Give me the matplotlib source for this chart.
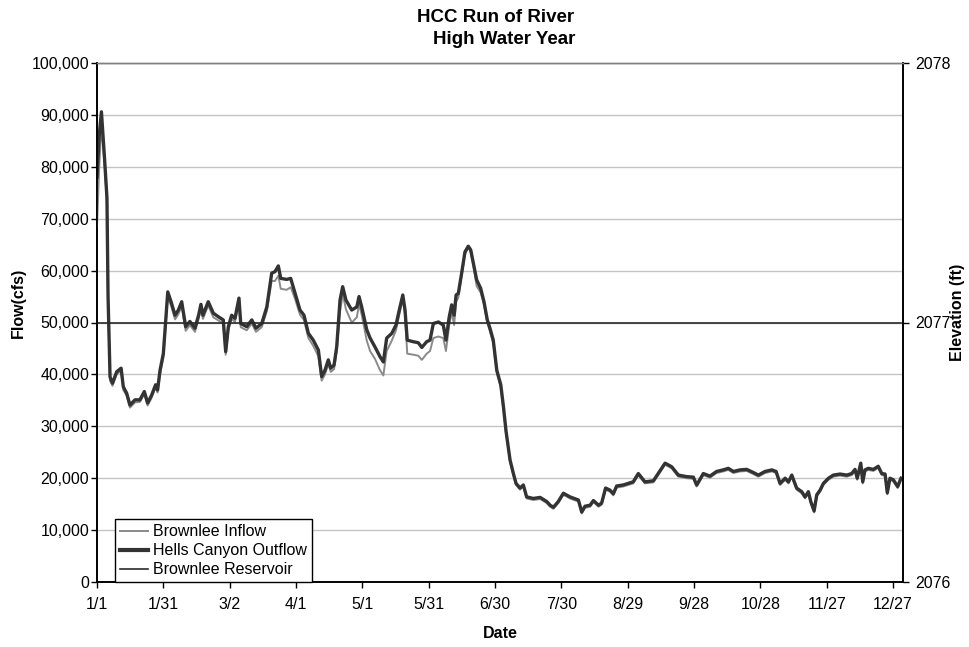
import matplotlib
matplotlib.use("Agg")
import matplotlib.pyplot as plt
from matplotlib.lines import Line2D

plt.rcParams['font.family'] = ['Liberation Sans', 'DejaVu Sans']

# day of year (0 = 1/1)
days = [0, 1, 2, 3.5, 4.5, 5, 5.9, 7, 8.9, 10.9, 11.9, 13.4, 14.9, 17.2, 19.4, 21.4, 22.9, 24.7,
        26.5, 27.4, 28.5, 30, 32, 33.5, 35.3, 36.8, 38.3, 40.1, 42, 44.3, 46, 47, 47.9, 50.3,
        52.6, 54.9, 57.1, 58.2, 59.4, 60.9, 62.4, 64.2, 65, 67.7, 70, 71.9, 74.5, 76.8, 79,
        80.5, 82, 83.1, 85.8, 87.6, 89.6, 91.8, 93.6, 95.6, 97.8, 100.1, 101.6, 103.1, 104.6,
        105.7, 107.2, 108.4, 109.9, 111.1, 112.6, 115.2, 117.5, 118.5, 119.7, 122, 123.5,
        125.7, 128, 129.5, 131, 133.3, 135.2, 136.7, 138.3, 139.3, 140.3, 143, 145.3, 146.9,
        149.1, 150.6, 152.1, 154.4, 156.6, 157.8, 159.3, 160.4, 161.5, 162.4, 163.4, 164.9,
        166.4, 167.9, 169, 170.2, 171.7, 173.5, 175, 176.5, 177.7, 179.2, 180.8, 182.6, 183.8,
        185, 186.8, 188.3, 189.5, 191.3, 192.8, 194.3, 197.3, 200.4, 203.4, 204.9, 206.4,
        208.6, 210.9, 213.9, 217.7, 219.2, 220.7, 223, 224.5, 226.8, 228.2, 230, 232, 233.5,
        235, 238, 242.5, 244.8, 247.8, 251.6, 253.8, 256.9, 259.9, 262.9, 266.7, 269.7, 271.2,
        274.2, 277.2, 280.2, 283.2, 285.5, 287.8, 290.8, 293.8, 296.8, 299.1, 302.1, 305.2,
        307.1, 308.9, 311.2, 312.7, 314.2, 316.4, 318.7, 320.2, 321.7, 322.8, 324.3, 325.5,
        327, 328.5, 330.8, 333, 336, 339.1, 341.3, 342.8, 343.8, 345.4, 346.3, 347.3, 348.8,
        351.1, 353.3, 354.9, 356.4, 357.4, 358.6, 360.1, 362.1, 363.6]

outflow = [78000, 86000, 90600, 81000, 74000, 55000, 39500, 38300, 40500, 41200, 37600, 36400,
           34100, 35100, 35100, 36700, 34500, 36000, 38000, 37000, 40800, 44000, 55900, 54000,
           51400, 52400, 54000, 49200, 50200, 48900, 51500, 53500, 51400, 54000, 51800, 51100,
           50500, 44400, 49200, 51400, 50800, 54700, 49800, 49200, 50500, 48900, 49800, 53000,
           59500, 59800, 60900, 58500, 58300, 58500, 55600, 52400, 51400, 47900, 46600, 44700,
           39600, 40800, 42800, 41200, 41800, 45300, 54300, 56900, 54300, 52400, 53000, 55000,
           53000, 48600, 47000, 45300, 43400, 42400, 47000, 47900, 49500, 52400, 55300, 52400,
           46600, 46300, 46100, 45200, 46300, 46600, 49800, 50100, 49500, 46600, 51100, 53400,
           51400, 55300, 55600, 59500, 63600, 64700, 64000, 61400, 58200, 56600, 54000, 50500,
           48900, 46600, 40800, 38000, 33800, 29000, 23500, 20900, 19000, 18100, 18700, 16400,
           16100, 16300, 15500, 14800, 14400, 15500, 17100, 16400, 15800, 13500, 14600, 14800,
           15700, 14800, 15200, 18100, 17700, 17000, 18500, 18700, 19300, 20900, 19300, 19500,
           20900, 22900, 22200, 20600, 20300, 20200, 18700, 20900, 20400, 21300, 21600, 21900,
           21300, 21600, 21700, 21100, 20600, 21300, 21600, 21300, 19000, 20000, 19300, 20600,
           18100, 17400, 16400, 17400, 15500, 13700, 16800, 17700, 19000, 20000, 20600, 20800,
           20600, 20900, 21700, 20000, 22900, 19300, 21600, 21900, 21700, 22300, 20900, 20800,
           17200, 20000, 19700, 18400, 20000]

inflow = [68500, 80000, 88000, 80000, 73000, 54000, 38800, 37800, 40000, 40700, 37000, 35900,
          33600, 34600, 34700, 36200, 34000, 35500, 37500, 36500, 40000, 43200, 55000, 53200,
          50600, 51600, 53200, 48400, 49500, 48200, 50800, 52800, 50700, 53300, 51000, 50400,
          49800, 43800, 48500, 50700, 50100, 54000, 49100, 48500, 49800, 48200, 49100, 52200,
          58000, 58000, 59000, 56500, 56300, 56800, 54500, 51500, 50500, 47000, 45500, 43500,
          38800, 40000, 42000, 40500, 41000, 44500, 52000, 55500, 52500, 50000, 51000, 53500,
          51500, 46500, 44500, 43000, 40800, 39800, 44500, 46500, 48500, 51500, 54500, 51500,
          44000, 43800, 43600, 42800, 44000, 44500, 47000, 47300, 47000, 44500, 49500, 52000,
          49500, 54000, 54800, 59000, 63200, 64400, 63600, 61000, 57000, 55800, 53500, 50000,
          48300, 46000, 40300, 37500, 33300, 28600, 23200, 20600, 18700, 17800, 18400, 16100,
          15800, 16000, 15200, 14500, 14100, 15200, 16800, 16100, 15500, 13200, 14300, 14500,
          15400, 14500, 14900, 17800, 17400, 16700, 18200, 18400, 19000, 20600, 19000, 19200,
          20600, 22600, 21900, 20300, 20000, 19900, 18400, 20600, 20100, 21000, 21300, 21600,
          21000, 21300, 21400, 20800, 20300, 21000, 21300, 21000, 18700, 19700, 19000, 20300,
          17800, 17100, 16100, 17100, 15200, 13400, 16500, 17400, 18700, 19700, 20300, 20500,
          20300, 20600, 21400, 19700, 22600, 19000, 21300, 21600, 21400, 22000, 20600, 20500,
          16900, 19700, 19400, 18100, 19700]

reservoir = [2077.0] * len(days)

tick_days = [0, 30, 60, 90, 120, 150, 180, 210, 240, 270, 300, 330, 360]
tick_labels = ["1/1", "1/31", "3/2", "4/1", "5/1", "5/31", "6/30", "7/30", "8/29", "9/28",
               "10/28", "11/27", "12/27"]

fig = plt.figure(figsize=(9.69, 6.47), dpi=100)
ax = fig.add_axes([97 / 969, 1 - 582 / 647, 806 / 969, 519 / 647])
ax2 = ax.twinx()

ax.set_xlim(0, 364.5)
ax.set_ylim(0, 100000)
ax.set_yticks(range(0, 100001, 10000))
ax.set_yticklabels([f"{v:,}" for v in range(0, 100001, 10000)])
ax.set_xticks(tick_days)
ax.set_xticklabels(tick_labels)
ax.grid(axis="y", color="#c4c4c4", lw=1.0)
ax.set_axisbelow(True)

ax.plot(days, inflow, color="#8a8a8a", lw=1.4, zorder=3)
ax.plot(days, outflow, color="#333333", lw=2.4, zorder=4)

ax2.set_ylim(2076, 2078)
ax2.set_yticks([2076, 2077, 2078])
ax2.plot(days, reservoir, color="#2a2a2a", lw=1.2)

for a in (ax, ax2):
    a.tick_params(labelsize=11.5, direction="out", length=4, width=1, colors="black")
    for s in a.spines.values():
        s.set_color("black")
        s.set_linewidth(1.2)
    a.spines["top"].set_color("#808080")
    a.spines["top"].set_linewidth(1.0)
ax.tick_params(axis="x", pad=7)
ax.tick_params(axis="y", pad=1.5)
ax2.tick_params(axis="y", pad=5)

ax.set_xlabel("Date", fontsize=11.5, fontweight="bold")
ax.xaxis.set_label_coords(0.5, -0.085)
ax.set_ylabel("Flow(cfs)", fontsize=11.5, fontweight="bold")
ax.yaxis.set_label_coords(-0.088, 0.538)
ax2.set_ylabel("Elevation (ft)", fontsize=11.5, fontweight="bold")
ax2.yaxis.set_label_coords(1.058, 0.52)

fig.text(0.511, 1 - 18 / 647, "HCC Run of River", ha="center", va="center",
         fontsize=13.5, fontweight="bold")
fig.text(0.52, 1 - 39 / 647, "High Water Year", ha="center", va="center",
         fontsize=13.5, fontweight="bold")

handles = [Line2D([], [], color="#8a8a8a", lw=1.4),
           Line2D([], [], color="#333333", lw=3.0),
           Line2D([], [], color="#2a2a2a", lw=1.2)]
leg = ax2.legend(handles, ["Brownlee Inflow", "Hells Canyon Outflow", "Brownlee Reservoir"],
                 loc="lower left", bbox_to_anchor=(0.022, 0.0), fontsize=11.5,
                 frameon=True, fancybox=False, framealpha=1, edgecolor="black",
                 borderpad=0.3, labelspacing=0.25, handlelength=1.8, handletextpad=0.3,
                 borderaxespad=0)
leg.get_frame().set_linewidth(1.0)

fig.savefig("out.png", dpi=100)
